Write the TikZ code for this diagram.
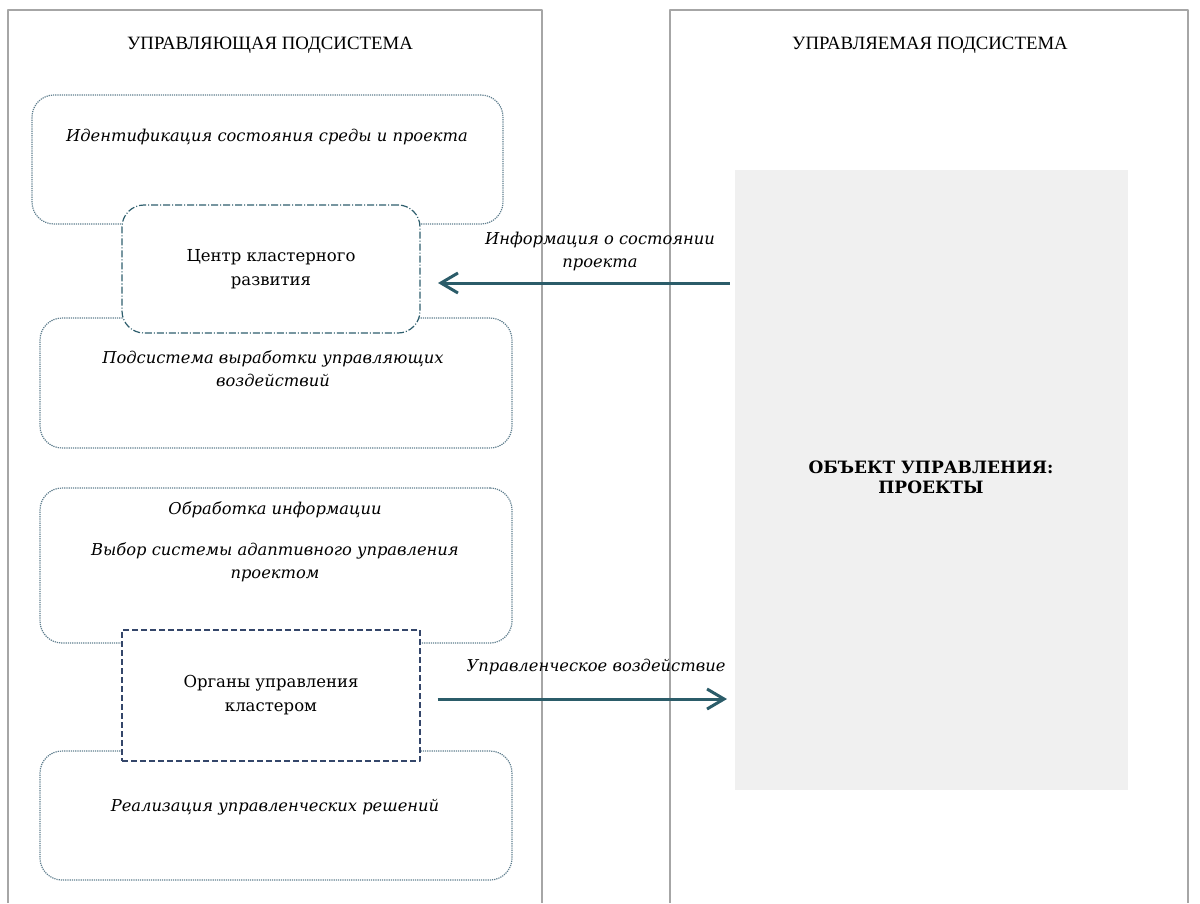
\documentclass[tikz,border=0pt]{standalone}
\usepackage{fontspec}
\setmainfont{DejaVu Serif}
\newfontfamily\headfont{Liberation Serif}
\usetikzlibrary{arrows.meta}
\definecolor{stageline}{HTML}{5F7E8E}
\definecolor{hubline}{HTML}{2F5F6E}
\definecolor{organline}{HTML}{34466A}
\definecolor{flowline}{HTML}{2B5C69}
\definecolor{objfill}{HTML}{F0F0F0}
\tikzset{
  panel/.style={draw=black!35, line width=1.1pt},
  stagebox/.style={draw=stageline, densely dotted, rounded corners=22pt, fill=white, line width=1.2pt, inner sep=0pt},
  hubbox/.style={draw=hubline, dash pattern=on 7pt off 2pt on 1pt off 2pt, rounded corners=22pt, fill=white, line width=1.2pt, inner sep=0pt, align=center, font=\fontsize{16.5}{24}\selectfont},
  organbox/.style={draw=organline, dash pattern=on 6pt off 3pt, fill=white, line width=1.2pt, inner sep=0pt, align=center, font=\fontsize{16.5}{24}\selectfont},
  flow/.style={draw=flowline, line width=3pt, -{Straight Barb[length=17pt, width=20pt, line width=3pt]}},
  caption/.style={font=\headfont\fontsize{18.8}{20}\selectfont},
  note/.style={font=\fontsize{16.3}{23}\selectfont\itshape, align=center, inner sep=0pt},
}
\begin{document}
\begin{tikzpicture}[x=1pt, y=-1pt, line join=round]
  \useasboundingbox (0,0) rectangle (1200,903);
  % two subsystems
  \draw[panel] (8,903) |- (542,10) -- (542,903);
  \draw[panel] (670,903) |- (1188,10) -- (1188,903);
  \node[caption] (leftcap) at (270,45) {УПРАВЛЯЮЩАЯ ПОДСИСТЕМА};
  \node[caption] (rightcap) at (930,45) {УПРАВЛЯЕМАЯ ПОДСИСТЕМА};
  % object of control
  \node[fill=objfill, minimum width=393pt, minimum height=620pt, inner sep=0pt] (object) at (931.5,480) {};
  \node[font=\fontsize{17}{20}\selectfont\bfseries, align=center] (objtxt) at (931,477) {ОБЪЕКТ УПРАВЛЕНИЯ:\\ПРОЕКТЫ};
  % upper group
  \node[stagebox, minimum width=471pt, minimum height=129pt] (ident) at (267.5,159.5) {};
  \node[note] (identtxt) at (267,137) {Идентификация состояния среды и проекта};
  \node[stagebox, minimum width=472pt, minimum height=130pt] (devel) at (276,383) {};
  \node[note] (develtxt) at (273,369) {Подсистема выработки управляющих\\воздействий};
  \node[hubbox, minimum width=298pt, minimum height=128pt] (hub) at (271,269) {Центр кластерного\\развития};
  % lower group
  \node[stagebox, minimum width=472pt, minimum height=155pt] (proc) at (276,565.5) {};
  \node[note] (proctxt) at (275,542) {Обработка информации\\[18pt]Выбор системы адаптивного управления\\проектом};
  \node[stagebox, minimum width=472pt, minimum height=129pt] (impl) at (276,815.5) {};
  \node[note] (impltxt) at (275,807) {Реализация управленческих решений};
  \node[organbox, minimum width=298pt, minimum height=131pt] (organ) at (271,695.5) {Органы управления\\кластером};
  % flows
  \coordinate (infoend) at (438,283);
  \coordinate (ctrlend) at (727,699);
  \draw[flow] (object.west |- infoend) ++(-5,0) -- (infoend);
  \draw[flow] (organ.east |- ctrlend) ++(17,0) -- (ctrlend);
  \node[note] (infotxt) at (600,251) {Информация о состоянии\\проекта};
  \node[note] (ctrltxt) at (596,667) {Управленческое воздействие};
\end{tikzpicture}
\end{document}
